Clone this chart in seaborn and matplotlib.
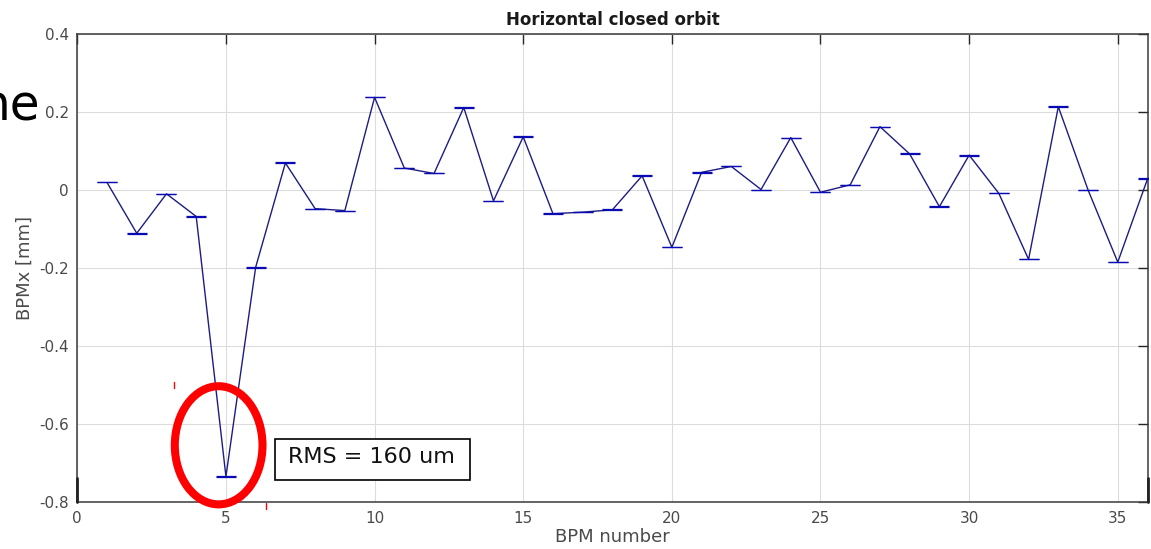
import matplotlib
matplotlib.use("Agg")
import matplotlib.pyplot as plt
import seaborn as sns
import pandas as pd
from matplotlib.patches import Ellipse, Rectangle
from matplotlib.lines import Line2D

# Measured horizontal orbit at each BPM
bpm_number = list(range(1, 37))
bpm_x = [0.019, -0.111, -0.010, -0.068, -0.734, -0.198, 0.069, -0.048, -0.053, 0.237,
         0.056, 0.042, 0.211, -0.028, 0.136, -0.061, -0.057, -0.051, 0.036, -0.147,
         0.045, 0.060, 0.001, 0.134, -0.006, 0.013, 0.162, 0.092, -0.043, 0.089,
         -0.009, -0.178, 0.213, 0.000, -0.185, 0.028]
bpm_err = [0.0, 0.0013, 0.0005, 0.0013, 0.0013, 0.0013, 0.0013, 0.0, 0.0, 0.0,
           0.0, 0.0, 0.0013, 0.0, 0.0013, 0.0013, 0.0, 0.0013, 0.0013, 0.0,
           0.0013, 0.0, 0.0, 0.0, 0.0, 0.0, 0.0, 0.0013, 0.0013, 0.0013,
           0.0, 0.0, 0.0013, 0.0, 0.0, 0.0013]

x_ticks = [0, 5, 10, 15, 20, 25, 30, 35]
y_ticks = [-0.8, -0.6, -0.4, -0.2, 0, 0.2, 0.4]
y_tick_labels = ["-0.8", "-0.6", "-0.4", "-0.2", "0", "0.2", "0.4"]

sns.set_theme(style="white")
plt.rcParams["font.family"] = ["DejaVu Sans"]
plt.rcParams["axes.unicode_minus"] = False

W, H = 1151, 549
fig = plt.figure(figsize=(W / 100, H / 100), dpi=100)
fig.patch.set_facecolor("white")

def px(x, y):
    return x / W, 1 - y / H

left, top = 77.3, 33.7
right, bottom = 1147.5, 502.3
ax = fig.add_axes([left / W, 1 - bottom / H, (right - left) / W, (bottom - top) / H])

df = pd.DataFrame({"bpm": bpm_number, "x": bpm_x})
sns.lineplot(data=df, x="bpm", y="x", ax=ax, color="#1c1c84", linewidth=1.0,
             estimator=None, sort=False, zorder=3)
ax.errorbar(bpm_number, bpm_x, yerr=bpm_err, fmt="none", ecolor="#0a0ab4",
            elinewidth=0.8, capsize=7.2, capthick=0.9, zorder=4)

ax.set_xlim(0, 36)
ax.set_ylim(-0.8, 0.4)
ax.set_xticks(x_ticks)
ax.set_yticks(y_ticks)
ax.set_yticklabels(y_tick_labels)
ax.grid(True, color="#dcdcdc", linewidth=0.8)
ax.set_axisbelow(True)
ax.tick_params(direction="in", length=7, width=1, color="#262626",
               top=True, right=True, labelsize=11, labelcolor="#4a4a4a", pad=6)
for s in ax.spines.values():
    s.set_color("#3a3a3a")
    s.set_linewidth(1.1)

ax.set_title("Horizontal closed orbit", fontsize=12, fontweight="bold",
             color="#1a1a1a", pad=6)
ax.set_xlabel("BPM number", fontsize=13, color="#4a4a4a", labelpad=2)
ax.set_ylabel("BPMx [mm]", fontsize=13, color="#4a4a4a", labelpad=4)

# Highlight around the outlier BPM
ax.add_patch(Ellipse((4.755, -0.654), 2.95, 0.3026, fill=False,
                     edgecolor="#ff0000", linewidth=5.8, clip_on=False, zorder=6))

# RMS annotation with its frame
ax.add_patch(Rectangle((6.644, -0.7428), 13.211 - 6.644, 0.7428 - 0.6385,
                       facecolor="white", edgecolor="black", linewidth=1.2, zorder=7))
ax.text(9.90, -0.6982, "RMS = 160 um", fontsize=16, color="#111111",
        ha="center", va="baseline", zorder=8)

# Small red marks beside the highlight
for (x0, y0, y1) in [(174.3, 382, 388), (265.7, 503, 509)]:
    fig.add_artist(Line2D([x0 / W, x0 / W], [1 - y0 / H, 1 - y1 / H],
                          color="#ff0000", linewidth=1))
# Heavier spine segments at the lower corners
for xs in (left, right):
    fig.add_artist(Line2D([xs / W, xs / W], [1 - 478 / H, 1 - 502 / H],
                          color="#222222", linewidth=2.0))

fig.text(*px(40, 120), "he", fontsize=35, color="black", ha="right", va="baseline")

fig.savefig("out.png", dpi=100, facecolor="white")
